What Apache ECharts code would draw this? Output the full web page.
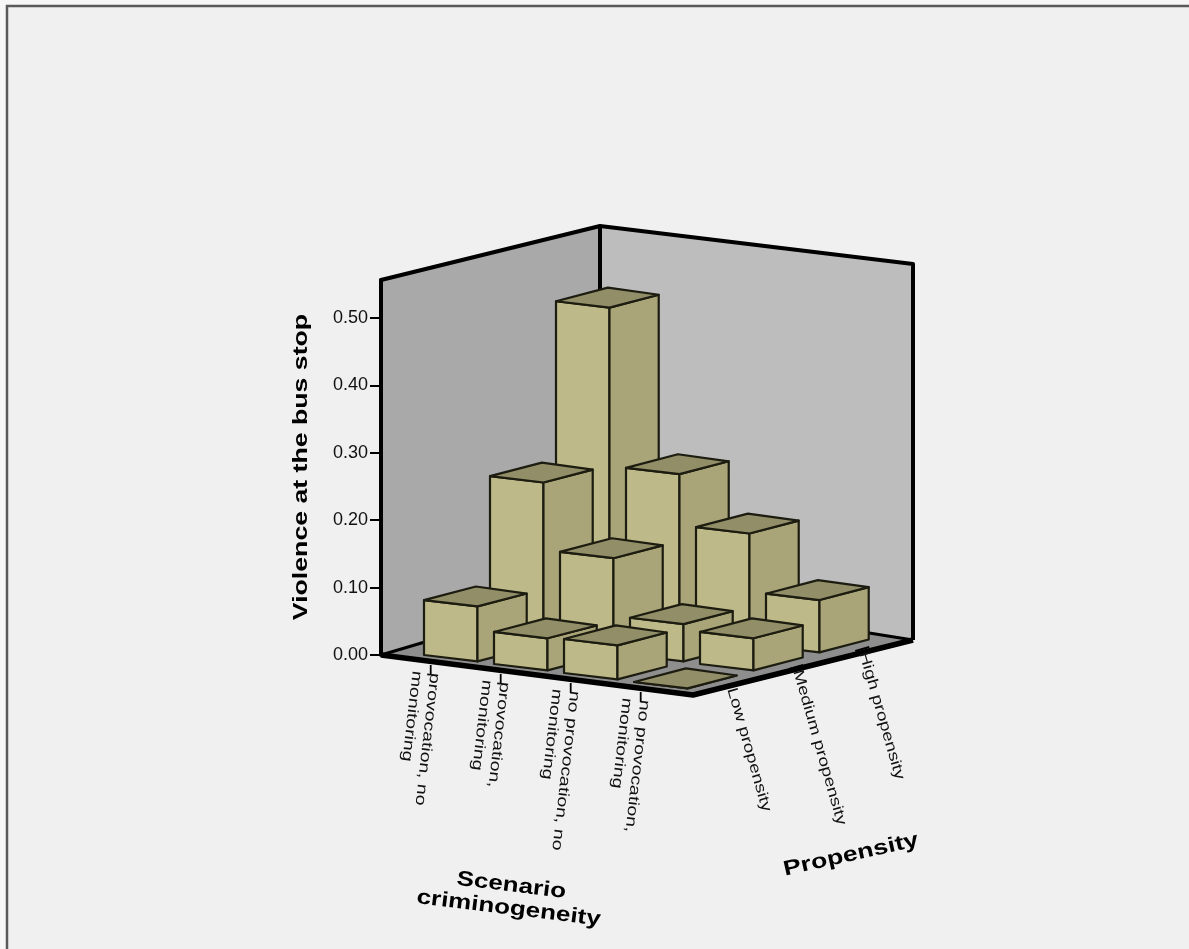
<!DOCTYPE html>
<html>
<head>
<meta charset="utf-8">
<style>html,body{margin:0;padding:0;background:#f6f6f6}#c{width:1189px;height:949px}</style>
<script src="https://cdn.jsdelivr.net/npm/echarts@6/dist/echarts.min.js"></script>
</head>
<body>
<div id="c"></div>
<script>
const scenarios = ['provocation, no\nmonitoring', 'provocation,\nmonitoring', 'no provocation, no\nmonitoring', 'no provocation,\nmonitoring'];
const propensities = ['Low propensity', 'Medium propensity', 'High propensity'];
const lowValues = [0.084, 0.049, 0.052, 0.000];
const mediumValues = [0.246, 0.144, 0.057, 0.049];
const highValues = [0.486, 0.245, 0.168, 0.080];
const yTicks = [0, 0.1, 0.2, 0.3, 0.4, 0.5];
const yTitle = 'Violence at the bus stop';
const xTitle = 'Scenario\ncriminogeneity';
const zTitle = 'Propensity';

const valueRows = [lowValues, mediumValues, highValues];
const barData = [];
for (let p = valueRows.length - 1; p >= 0; p--) {
  valueRows[p].forEach((v, s) => barData.push([s, p, v]));
}

const PX = 674;               // pixels per value unit on the left wall
const DEPTH_K = 0.97;         // bars sit further back than the wall's front edge
const FONT = '"Liberation Sans", Arial, sans-serif';
const EDGE = '#1c1c10';

function plane(api, s, p, v) {
  const x = 43 + s * 70 + p * 66;
  const y = v * DEPTH_K + (-s * 9 + p * 18) / PX;
  return api.coord([x, y]);
}
function wallPt(api, x, dy) { return api.coord([x, dy / PX]); }

function renderBar(params, api) {
  const s = api.value(0), p = api.value(1), v = api.value(2);
  const corner = (ds, dp, val) => plane(api, s + ds, p + dp, val);
  const fs = 0.745, fp = 0.745;
  const fl = corner(0, 0, 0), fm = corner(fs, 0.02, 0), fr = corner(fs + 0.02, fp, 0);
  const tl = corner(0, 0, v), tm = corner(fs, 0.02, v), tr = corner(fs + 0.02, fp, v), tb = corner(0.02, fp + 0.02, v);
  const poly = (pts, fill) => ({
    type: 'polygon', shape: { points: pts },
    style: { fill: fill, stroke: EDGE, lineWidth: 2.2, lineJoin: 'round' }
  });
  return {
    type: 'group', children: [
      poly([fl, fm, tm, tl], '#bdb988'),
      poly([fm, fr, tr, tm], '#a9a579'),
      poly([tl, tm, tr, tb], '#928e68')
    ]
  };
}

function renderWalls(params, api) {
  const L = wallPt(api, 0, 0), F = wallPt(api, 312, -40), R = wallPt(api, 532, 15), B = wallPt(api, 219, 65);
  const LT = wallPt(api, 0, 375), BT = wallPt(api, 219, 429), RT = wallPt(api, 532, 391);
  const face = (pts, fill) => ({ type: 'polygon', shape: { points: pts }, style: { fill: fill, stroke: null } });
  const line = (pts, w) => ({ type: 'polyline', shape: { points: pts }, style: { fill: null, stroke: '#000', lineWidth: w, lineJoin: 'round' } });
  return {
    type: 'group', children: [
      face([L, B, BT, LT], '#a9a9a9'),
      face([B, R, RT, BT], '#bdbdbd'),
      face([L, F, R, B], '#8e8e8e'),
      line([L, B], 3), line([B, R], 3),
      line([B, BT], 4),
      line([L, LT, BT, RT, R], 4),
      line([L, F, R], 5.5)
    ]
  };
}

function renderScenarioLabel(params, api) {
  const i = api.value(0);
  const a = plane(api, i + 0.42, -0.344, 0);
  return {
    type: 'group', children: [
      { type: 'line', shape: { x1: a[0], y1: a[1], x2: a[0], y2: a[1] + 10 }, style: { stroke: '#000', lineWidth: 1.8 } },
      {
        type: 'text', x: a[0] - 5, y: a[1] + 7, rotation: -96.5 * Math.PI / 180, scaleX: 1.3,
        style: { text: scenarios[i], font: '15px ' + FONT, fill: '#111', align: 'left', verticalAlign: 'middle', lineHeight: 18 }
      }
    ]
  };
}

function renderPropensityLabel(params, api) {
  const j = api.value(0);
  const a = plane(api, 3.97, j + 0.43, 0);
  return {
    type: 'group', children: [
      { type: 'line', shape: { x1: a[0] - 7, y1: a[1] + 4, x2: a[0] + 7, y2: a[1] }, style: { stroke: '#000', lineWidth: 2 } },
      {
        type: 'text', x: a[0] + 1, y: a[1] + 5, rotation: -74 * Math.PI / 180, scaleX: 1.27,
        style: { text: propensities[j], font: '15px ' + FONT, fill: '#111', align: 'left', verticalAlign: 'middle' }
      }
    ]
  };
}

const titleFont = 'bold 21px ' + FONT;
const chart = echarts.init(document.getElementById('c'), null, { renderer: 'canvas', width: 1189, height: 949 });
chart.setOption({
  animation: false,
  backgroundColor: '#f6f6f6',
  grid: { left: 381, right: 276, top: 280, bottom: 294 },
  xAxis: { type: 'value', min: 0, max: 532, show: false },
  yAxis: {
    type: 'value', min: 0, max: 375 / PX, interval: 0.1,
    axisLine: { show: true, lineStyle: { color: '#000', width: 4 } },
    axisTick: { show: true, length: 11, customValues: yTicks, lineStyle: { color: '#000', width: 2 } },
    axisLabel: { customValues: yTicks, formatter: v => v.toFixed(2), fontFamily: FONT, fontSize: 18, color: '#111', margin: 13, padding: [3, 0, 0, 0] },
    splitLine: { show: false }
  },
  graphic: [
    { type: 'rect', z: -10, shape: { x: 7, y: 6, width: 1300, height: 1100 }, style: { fill: '#f0f0f0', stroke: '#5a5a5a', lineWidth: 2.5 } },
    { type: 'text', z: 50, x: 301, y: 467, rotation: Math.PI / 2, scaleX: 1.27, style: { text: yTitle, font: titleFont, fill: '#000', align: 'center', verticalAlign: 'middle' } },
    { type: 'text', z: 50, x: 510, y: 897, rotation: -7 * Math.PI / 180, scaleX: 1.24, style: { text: xTitle, font: titleFont, fill: '#000', align: 'center', verticalAlign: 'middle', lineHeight: 23 } },
    { type: 'text', z: 50, x: 851, y: 855, rotation: 12.6 * Math.PI / 180, scaleX: 1.27, style: { text: zTitle, font: titleFont, fill: '#000', align: 'center', verticalAlign: 'middle' } }
  ],
  series: [
    { type: 'custom', name: 'walls', silent: true, z: 1, renderItem: renderWalls, data: [[0, 0]] },
    { type: 'custom', name: 'Scenario labels', silent: true, z: 2, renderItem: renderScenarioLabel, data: scenarios.map((_, i) => [i, 0]) },
    { type: 'custom', name: 'Propensity labels', silent: true, z: 2, renderItem: renderPropensityLabel, data: propensities.map((_, j) => [j, 0]) },
    { type: 'custom', name: yTitle, silent: true, z: 3, renderItem: renderBar, data: barData }
  ]
});
</script>
</body>
</html>
